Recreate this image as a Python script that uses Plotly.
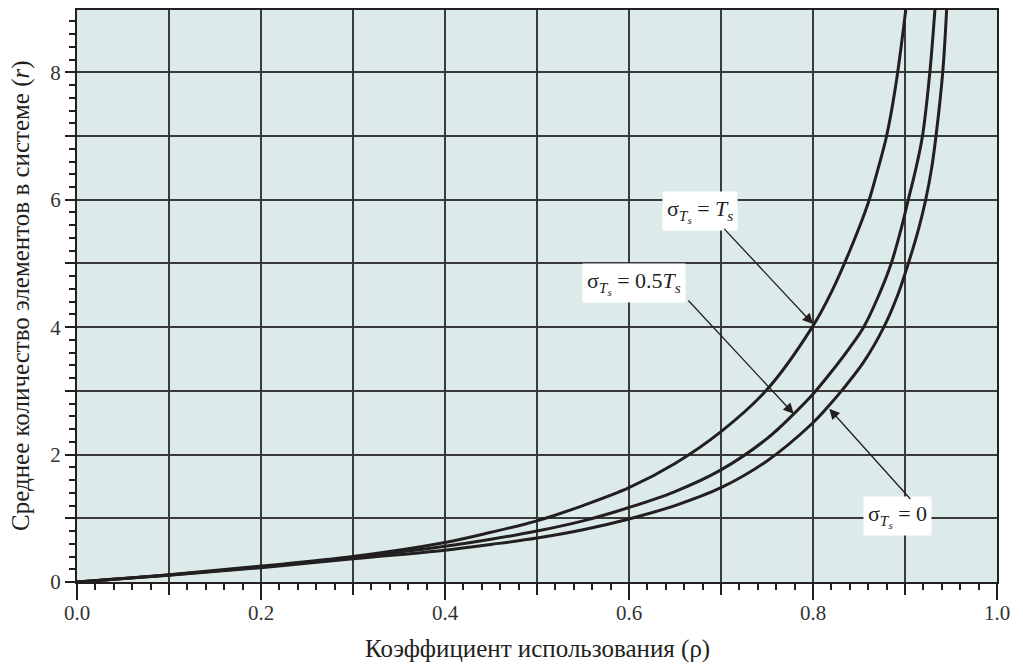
import plotly.graph_objects as go

# Curve data: utilisation rho vs mean number in system r
rho_a = [0, 0.1, 0.2, 0.3, 0.4, 0.45, 0.5, 0.55, 0.6, 0.65, 0.7, 0.75, 0.8, 0.82, 0.84, 0.86, 0.87, 0.88, 0.89, 0.901]
r_a = [0, 0.115, 0.25, 0.40, 0.62, 0.78, 0.96, 1.2, 1.48, 1.86, 2.36, 3.02, 4.02, 4.55, 5.2, 5.95, 6.45, 7.0, 7.8, 9.0]

rho_b = [0, 0.1, 0.2, 0.3, 0.4, 0.45, 0.5, 0.55, 0.6, 0.65, 0.7, 0.75, 0.78, 0.8, 0.82, 0.84, 0.855,
         0.87, 0.885, 0.895, 0.9036, 0.912, 0.919, 0.927, 0.9326]
r_b = [0, 0.108, 0.235, 0.385, 0.56, 0.67, 0.8, 0.96, 1.17, 1.42, 1.76, 2.25, 2.65, 2.95, 3.3, 3.68, 4.0,
       4.45, 5.0, 5.5, 6.0, 6.5, 7.0, 8.0, 9.0]

rho_c = [0, 0.1, 0.2, 0.3, 0.4, 0.45, 0.5, 0.55, 0.6, 0.65, 0.7, 0.75, 0.8, 0.815, 0.831, 0.855, 0.877,
         0.892, 0.9036, 0.914, 0.9225, 0.929, 0.9337, 0.941, 0.9453]
r_c = [0, 0.105, 0.225, 0.365, 0.5, 0.59, 0.69, 0.82, 0.99, 1.2, 1.48, 1.9, 2.5, 2.73, 3.0, 3.45, 4.0,
       4.5, 5.0, 5.5, 6.0, 6.5, 7.0, 8.0, 9.0]

x_ticks = [0, 0.1, 0.2, 0.3, 0.4, 0.5, 0.6, 0.7, 0.8, 0.9, 1.0]
x_labels = ["0.0", "", "0.2", "", "0.4", "", "0.6", "", "0.8", "", "1.0"]
x_long_ticks = [0, 0.2, 0.4, 0.6, 0.8, 1.0]
y_ticks = [0, 1, 2, 3, 4, 5, 6, 7, 8]
y_labels = ["0", "", "2", "", "4", "", "6", "", "8"]

x_title = "Коэффициент использования (ρ)"
y_title = "Среднее количество элементов в системе (<i>r</i>)"

labels = [
    "σ<sub><i>T</i><sub><i>s</i></sub></sub> = <i>T</i><sub><i>s</i></sub>",
    "σ<sub><i>T</i><sub><i>s</i></sub></sub> = 0.5<i>T</i><sub><i>s</i></sub>",
    "σ<sub><i>T</i><sub><i>s</i></sub></sub> = 0",
]
label_pos = [(0.677, 5.83), (0.605, 4.69), (0.892, 1.036)]
arrow_tail = [(0.702, 5.566), (0.663, 4.441), (0.9073, 1.279)]
arrow_head = [(0.8, 4.05), (0.779, 2.641), (0.8177, 2.72)]

FONT = "Liberation Serif, Times New Roman, serif"
INK = "#231f20"
GRID = "#3a3a3a"

fig = go.Figure()
for xs, ys in [(rho_a, r_a), (rho_b, r_b), (rho_c, r_c)]:
    fig.add_trace(go.Scatter(x=xs, y=ys, mode="lines",
                             line=dict(color=INK, width=3, shape="spline", smoothing=1),
                             showlegend=False, hoverinfo="skip"))
# invisible trace for the overlay axis carrying the long ticks
fig.add_trace(go.Scatter(x=[0, 1], y=[0, 0], xaxis="x2", mode="lines",
                         line=dict(width=0), showlegend=False, hoverinfo="skip"))

for i, lab in enumerate(labels):
    fig.add_annotation(x=label_pos[i][0], y=label_pos[i][1], xref="x", yref="y",
                       text=lab, showarrow=False, bgcolor="white", borderpad=4,
                       font=dict(family=FONT, size=22, color=INK))
    fig.add_annotation(x=arrow_head[i][0], y=arrow_head[i][1], xref="x", yref="y",
                       ax=arrow_tail[i][0], ay=arrow_tail[i][1], axref="x", ayref="y",
                       text="", showarrow=True, arrowhead=2, arrowsize=1.6,
                       arrowwidth=1.3, arrowcolor=INK)

fig.add_annotation(x=0.5, y=0, xref="paper", yref="paper", yshift=-67,
                   text=x_title, showarrow=False, yanchor="middle",
                   font=dict(family=FONT, size=25, color=INK))
fig.add_annotation(x=0, y=0.5, xref="paper", yref="paper", xshift=-56,
                   text=y_title, showarrow=False, textangle=-90, xanchor="center",
                   font=dict(family=FONT, size=25, color=INK))

fig.update_layout(
    width=1007, height=656,
    margin=dict(l=69, r=18, t=0, b=82),
    paper_bgcolor="white",
    plot_bgcolor="#dceaea",
    font=dict(family=FONT, size=21, color="#333333"),
    xaxis=dict(range=[0, 1], tickvals=x_ticks, ticktext=x_labels,
               showgrid=True, gridcolor=GRID, gridwidth=2,
               ticks="outside", ticklen=11, tickwidth=2, tickcolor=INK,
               showline=True, linecolor=INK, linewidth=2, mirror=True,
               zeroline=False, tickfont=dict(family=FONT, size=21),
               minor=dict(dtick=0.02, tick0=0, ticks="outside", ticklen=6,
                          tickwidth=1.5, tickcolor=INK, showgrid=False)),
    xaxis2=dict(range=[0, 1], overlaying="x", side="bottom", anchor="y",
                tickvals=x_long_ticks, ticks="outside", ticklen=17, tickwidth=2,
                tickcolor=INK, showticklabels=False, showgrid=False,
                showline=False, zeroline=False),
    yaxis=dict(range=[0, 8.978], tickvals=y_ticks, ticktext=y_labels,
               showgrid=True, gridcolor=GRID, gridwidth=2,
               ticks="outside", ticklen=10, tickwidth=2, tickcolor=INK,
               showline=True, linecolor=INK, linewidth=2, mirror=True,
               zeroline=False, tickfont=dict(family=FONT, size=21),
               minor=dict(dtick=0.2, tick0=0, ticks="outside", ticklen=6,
                          tickwidth=1.5, tickcolor=INK, showgrid=False)),
)

fig.write_html("out.html")
